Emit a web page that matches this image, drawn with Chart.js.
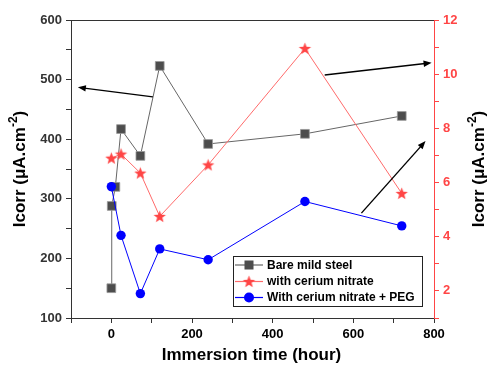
<!DOCTYPE html>
<html>
<head>
<meta charset="utf-8">
<script src="https://cdn.jsdelivr.net/npm/chart.js@4.4.0/dist/chart.umd.min.js"></script>
<style>html,body{margin:0;padding:0;background:#fff}</style>
</head>
<body>
<canvas id="myChart" width="488" height="368"></canvas>
<script>
// data
const hoursBare = [0, 1, 10, 24, 72, 120, 240, 480, 720];
const bareSteel = [150, 288, 320, 417, 372, 523, 392, 409, 439];
const hoursTreated = [0, 24, 72, 120, 240, 480, 720];
const ceriumNitrate = [6.9, 7.05, 6.35, 4.75, 6.65, 10.95, 5.6];
const ceriumPeg = [5.85, 4.05, 1.9, 3.55, 3.15, 5.3, 4.4];
const seriesLabels = ['Bare mild steel', 'with cerium nitrate', 'With cerium nitrate + PEG'];
// arrows in data units: [x, y] from -> to, with the axis they refer to
const arrows = [
    { axis: 'y', from: [103, 471], to: [-83, 487] },
    { axis: 'y2', from: [529, 9.97], to: [794, 10.42] },
    { axis: 'y2', from: [620, 4.87], to: [779, 7.53] }
];

const RED = '#ff4545';
const FONT = 'Arial, "Liberation Sans", sans-serif';

function toPoints(xs, ys) {
    return xs.map((x, i) => ({ x: x, y: ys[i] }));
}

// filled star marker (Chart.js 'star' is only strokes)
function makeStar(r, color) {
    const c = document.createElement('canvas');
    c.width = c.height = Math.ceil(r * 2 + 2);
    const g = c.getContext('2d');
    const cx = c.width / 2, cy = c.height / 2 + 0.5;
    g.beginPath();
    for (let i = 0; i < 10; i++) {
        const rr = i % 2 === 0 ? r : r * 0.42;
        const a = -Math.PI / 2 + i * Math.PI / 5;
        g.lineTo(cx + rr * Math.cos(a), cy + rr * Math.sin(a));
    }
    g.closePath();
    g.fillStyle = color;
    g.fill();
    return c;
}
const starImg = makeStar(6.5, RED);

function drawSupTitle(ctx, x, y, rot, base, sup, tail, color) {
    ctx.save();
    ctx.translate(x, y);
    ctx.rotate(rot);
    ctx.fillStyle = color;
    ctx.textBaseline = 'middle';
    ctx.font = 'bold 17px ' + FONT;
    const w1 = ctx.measureText(base).width;
    const w3 = ctx.measureText(tail).width;
    ctx.font = 'bold 12px ' + FONT;
    const w2 = ctx.measureText(sup).width;
    let cx = -(w1 + w2 + w3) / 2;
    ctx.textAlign = 'left';
    ctx.font = 'bold 17px ' + FONT;
    ctx.fillText(base, cx, 0);
    ctx.font = 'bold 12px ' + FONT;
    ctx.fillText(sup, cx + w1, -6);
    ctx.font = 'bold 17px ' + FONT;
    ctx.fillText(tail, cx + w1 + w2, 0);
    ctx.restore();
}

const extrasPlugin = {
    id: 'extras',
    afterDatasetsDraw(chart) {
        const ctx = chart.ctx;
        const area = chart.chartArea;
        const xs = chart.scales.x;

        // top frame line
        ctx.save();
        ctx.strokeStyle = '#333';
        ctx.lineWidth = 1;
        ctx.beginPath();
        ctx.moveTo(area.left, area.top + 0.5);
        ctx.lineTo(area.right, area.top + 0.5);
        ctx.stroke();

        // arrows
        ctx.strokeStyle = '#000';
        ctx.fillStyle = '#000';
        ctx.lineWidth = 1.4;
        arrows.forEach(a => {
            const ys = chart.scales[a.axis];
            const x1 = xs.getPixelForValue(a.from[0]), y1 = ys.getPixelForValue(a.from[1]);
            const x2 = xs.getPixelForValue(a.to[0]), y2 = ys.getPixelForValue(a.to[1]);
            const ang = Math.atan2(y2 - y1, x2 - x1);
            const hl = 8, hw = 3.2;
            ctx.beginPath();
            ctx.moveTo(x1, y1);
            ctx.lineTo(x2 - Math.cos(ang) * hl * 0.8, y2 - Math.sin(ang) * hl * 0.8);
            ctx.stroke();
            ctx.beginPath();
            ctx.moveTo(x2, y2);
            ctx.lineTo(x2 - Math.cos(ang) * hl - Math.sin(ang) * hw, y2 - Math.sin(ang) * hl + Math.cos(ang) * hw);
            ctx.lineTo(x2 - Math.cos(ang) * hl + Math.sin(ang) * hw, y2 - Math.sin(ang) * hl - Math.cos(ang) * hw);
            ctx.closePath();
            ctx.fill();
        });

        // legend box
        const lx = 233, ly = 256, lw = 189, lh = 50;
        ctx.fillStyle = '#fff';
        ctx.fillRect(lx, ly, lw, lh);
        ctx.strokeStyle = '#222';
        ctx.lineWidth = 1;
        ctx.strokeRect(lx + 0.5, ly + 0.5, lw, lh);
        const rows = [265, 281.5, 297.5];
        chart.data.datasets.forEach((ds, i) => {
            const y = rows[i];
            ctx.strokeStyle = ds.borderColor;
            ctx.lineWidth = 1.2;
            ctx.beginPath();
            ctx.moveTo(lx + 2, y);
            ctx.lineTo(lx + 30, y);
            ctx.stroke();
            const mx = lx + 16;
            if (ds.pointStyle === 'rect') {
                ctx.fillStyle = ds.pointBackgroundColor;
                ctx.fillRect(mx - 4.5, y - 4.5, 9, 9);
            } else if (ds.pointStyle === 'circle') {
                ctx.fillStyle = ds.pointBackgroundColor;
                ctx.beginPath();
                ctx.arc(mx, y, 5, 0, Math.PI * 2);
                ctx.fill();
            } else {
                ctx.drawImage(ds.pointStyle, mx - ds.pointStyle.width / 2, y - ds.pointStyle.height / 2);
            }
            ctx.fillStyle = '#000';
            ctx.font = 'bold 12px ' + FONT;
            ctx.textAlign = 'left';
            ctx.textBaseline = 'middle';
            ctx.fillText(ds.label, lx + 34, y + 0.5);
        });

        // axis titles
        const midY = (area.top + area.bottom) / 2;
        drawSupTitle(ctx, 20, midY, -Math.PI / 2, 'Icorr (\u03bcA.cm', '-2', ')', '#000');
        drawSupTitle(ctx, 479, midY, -Math.PI / 2, 'Icorr (\u03bcA.cm', '-2', ')', '#000');
        ctx.fillStyle = '#000';
        ctx.font = 'bold 17px ' + FONT;
        ctx.textAlign = 'center';
        ctx.textBaseline = 'middle';
        ctx.fillText('Immersion time (hour)', (area.left + area.right) / 2 - 1, 355);
        ctx.restore();
    }
};

const tickFont = { family: FONT, size: 13, weight: 'bold' };

new Chart(document.getElementById('myChart').getContext('2d'), {
    type: 'line',
    data: {
        datasets: [{
            label: seriesLabels[0],
            data: toPoints(hoursBare, bareSteel),
            yAxisID: 'y',
            borderColor: '#666',
            borderWidth: 1,
            pointStyle: 'rect',
            pointRadius: 6.2,
            pointBackgroundColor: '#4d4d4d',
            pointBorderColor: '#999',
            pointBorderWidth: 0.8,
            order: 2
        }, {
            label: seriesLabels[1],
            data: toPoints(hoursTreated, ceriumNitrate),
            yAxisID: 'y2',
            borderColor: '#ff6a6a',
            borderWidth: 1,
            pointStyle: starImg,
            order: 1
        }, {
            label: seriesLabels[2],
            data: toPoints(hoursTreated, ceriumPeg),
            yAxisID: 'y2',
            borderColor: '#0000ff',
            borderWidth: 1,
            pointStyle: 'circle',
            pointRadius: 4.7,
            pointBackgroundColor: '#0000ff',
            pointBorderColor: '#0000ff',
            pointBorderWidth: 0,
            order: 0
        }]
    },
    options: {
        responsive: false,
        animation: false,
        devicePixelRatio: 1,
        layout: { padding: { top: 20, left: 0, right: 0, bottom: 0 } },
        plugins: {
            legend: { display: false },
            tooltip: { enabled: false }
        },
        scales: {
            x: {
                type: 'linear',
                min: -100,
                max: 800,
                afterFit: s => { s.height = 50; },
                ticks: {
                    stepSize: 100,
                    autoSkip: false,
                    maxRotation: 0,
                    color: '#000',
                    font: tickFont,
                    padding: 4,
                    callback: v => (v % 200 === 0 ? v : '')
                },
                grid: { drawOnChartArea: false, tickLength: 5, tickColor: '#333' },
                border: { color: '#333', width: 1 }
            },
            y: {
                position: 'left',
                min: 100,
                max: 600,
                afterFit: s => { s.width = 71; },
                ticks: {
                    stepSize: 50,
                    autoSkip: false,
                    color: '#333',
                    font: tickFont,
                    padding: 4,
                    callback: v => (v % 100 === 0 ? v : '')
                },
                grid: { drawOnChartArea: false, tickLength: 5, tickColor: '#333' },
                border: { color: '#333', width: 1 }
            },
            y2: {
                position: 'right',
                min: 1,
                max: 12,
                afterFit: s => { s.width = 54; },
                ticks: {
                    stepSize: 1,
                    autoSkip: false,
                    color: RED,
                    font: tickFont,
                    padding: 4,
                    callback: v => (v % 2 === 0 ? v : '')
                },
                grid: { drawOnChartArea: false, tickLength: 5, tickColor: RED },
                border: { color: RED, width: 1 }
            }
        }
    },
    plugins: [extrasPlugin]
});
</script>
</body>
</html>
